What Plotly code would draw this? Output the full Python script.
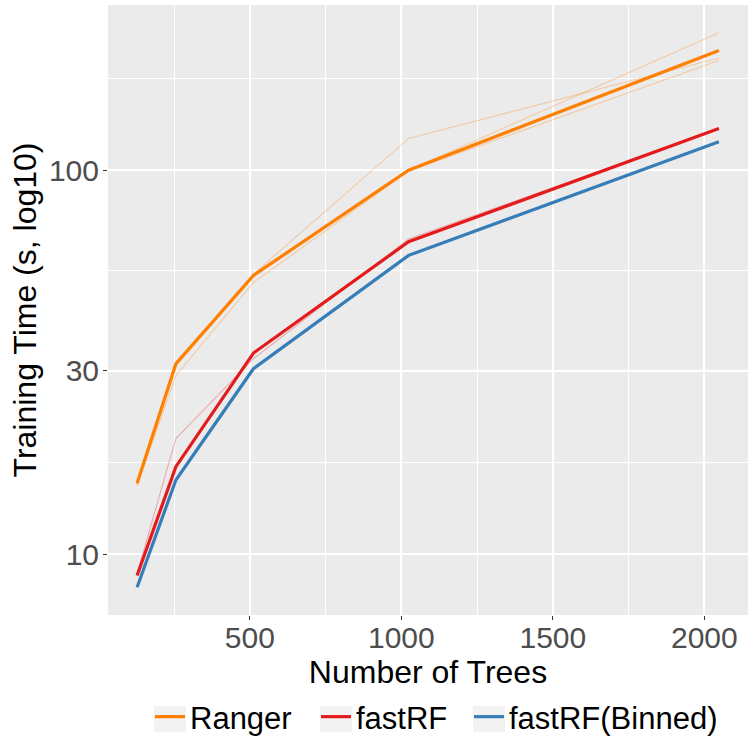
import numpy as np
import plotly.graph_objects as go

# Number of trees in the forest
trees = [128, 256, 512, 1024, 2048]

# Summary training times (seconds)
ranger = [15.3, 31.3, 53.2, 100.0, 205.0]
fastrf = [8.8, 16.9, 33.4, 65.1, 128.4]
fastrf_binned = [8.2, 15.6, 30.4, 60.0, 118.6]

# Individual repeated runs (seconds)
ranger_runs = [
    [15.2, 31.6, 53.6, 121.0, 196.0],
    [15.2, 31.6, 53.6, 100.0, 228.0],
    [15.1, 29.2, 51.0, 99.5, 193.0],
]
fastrf_runs = [
    [8.9, 20.0, 32.3, 66.2, 128.6],
]
fastrf_binned_runs = [
    [8.2, 15.7, 30.6, 60.3, 118.8],
]

x_ticks = [500, 1000, 1500, 2000]
x_minor = [250, 750, 1250, 1750]
y_ticks = [10, 30, 100]

series = [
    ("Ranger", ranger, ranger_runs, "#FF7F00", "rgba(255,127,0,0.30)"),
    ("fastRF", fastrf, fastrf_runs, "#E41A1C", "rgba(228,26,28,0.30)"),
    ("fastRF(Binned)", fastrf_binned, fastrf_binned_runs, "#377EB8", "rgba(55,126,184,0.30)"),
]

FONT = "Liberation Sans, Arial, sans-serif"
W, H = 748, 740
M_L, M_R, M_T, M_B = 108, 0, 5, 125
PLOT_W, PLOT_H = W - M_L - M_R, H - M_T - M_B

# legend row: left edge of each entry (px) and vertical centre (px)
legend_x_px = [150, 316, 469]
legend_y_px = 717
legend_ids = ["legend", "legend2", "legend3"]

fig = go.Figure()

# faint lines for each repeated run
for name, mean_vals, runs, col, faint in series:
    for run in runs:
        fig.add_trace(go.Scatter(
            x=trees, y=run, mode="lines", showlegend=False, hoverinfo="skip",
            line=dict(color=faint, width=1.1),
        ))

# thick summary lines, each with its own legend entry
for (name, mean_vals, runs, col, faint), lid in zip(series, legend_ids):
    fig.add_trace(go.Scatter(
        x=trees, y=mean_vals, mode="lines", name=name, legend=lid,
        line=dict(color=col, width=3.2),
    ))

# axis limits with 5% padding, as in ggplot's default expansion
all_y = np.log10(np.concatenate([np.ravel(s[1]) for s in series] +
                                [np.ravel(r) for s in series for r in s[2]]))
ylo, yhi = all_y.min(), all_y.max()
ypad = 0.05 * (yhi - ylo)
xpad = 0.05 * (max(trees) - min(trees))

# minor log gridlines halfway (in log space) between major breaks
y_breaks_ext = y_ticks + [300]
y_minor = [float(np.sqrt(a * b)) for a, b in zip(y_breaks_ext[:-1], y_breaks_ext[1:])]

legend_common = dict(
    orientation="h", xref="container", yref="container",
    xanchor="left", yanchor="middle",
    font=dict(size=31, family=FONT, color="black"),
    bgcolor="rgba(0,0,0,0)", itemwidth=30,
)
legend_layout = {}
for lid, lx in zip(legend_ids, legend_x_px):
    legend_layout[lid] = dict(legend_common, x=lx / W, y=1 - legend_y_px / H)

# light grey key backgrounds behind the legend lines
key_shapes = []
for lx in legend_x_px:
    cx = lx + 20
    cy = legend_y_px + 2
    key_shapes.append(dict(
        type="rect", xref="paper", yref="paper", layer="above",
        x0=(cx - 16 - M_L) / PLOT_W, x1=(cx + 16 - M_L) / PLOT_W,
        y0=(H - M_B - (cy + 13)) / PLOT_H, y1=(H - M_B - (cy - 13)) / PLOT_H,
        fillcolor="#F2F2F2", line=dict(width=0),
    ))

fig.update_layout(
    width=W, height=H,
    margin=dict(l=M_L, r=M_R, t=M_T, b=M_B, autoexpand=False),
    paper_bgcolor="white",
    plot_bgcolor="#EBEBEB",
    font=dict(family=FONT, color="black"),
    showlegend=True,
    shapes=key_shapes,
    xaxis=dict(
        range=[min(trees) - xpad, max(trees) + xpad],
        tickvals=x_ticks,
        ticktext=[str(v) for v in x_ticks],
        ticks="outside", ticklen=4, tickwidth=1.1, tickcolor="#333333",
        tickfont=dict(size=30, color="#4D4D4D", family=FONT),
        ticklabelstandoff=-8,
        showgrid=True, gridcolor="white", gridwidth=1.6,
        zeroline=False, showline=False,
        minor=dict(tickvals=x_minor, showgrid=True, gridcolor="white",
                   gridwidth=0.8, ticks=""),
        title=dict(text="Number of Trees", font=dict(size=32, color="black", family=FONT),
                   standoff=0),
    ),
    yaxis=dict(
        type="log",
        range=[ylo - ypad, yhi + ypad],
        tickvals=y_ticks,
        ticktext=[str(v) for v in y_ticks],
        ticks="outside", ticklen=4, tickwidth=1.1, tickcolor="#333333",
        tickfont=dict(size=30, color="#4D4D4D", family=FONT),
        ticklabelstandoff=-2,
        showgrid=True, gridcolor="white", gridwidth=1.6,
        zeroline=False, showline=False,
        minor=dict(tickvals=y_minor, showgrid=True, gridcolor="white",
                   gridwidth=0.8, ticks=""),
        title=dict(text="Training Time (s, log10)", font=dict(size=32, color="black", family=FONT),
                   standoff=2),
    ),
    **legend_layout,
)

fig.write_html("out.html")
